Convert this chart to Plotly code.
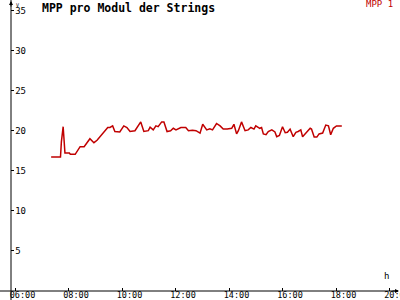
import plotly.graph_objects as go

day = "2020-01-01 "
times = ["07:20","07:41","07:43","07:45","07:47","07:51","08:01","08:03","08:14","08:25",
         "08:34","08:47","08:56","09:03","09:13","09:23","09:27","09:32","09:38","09:43",
         "09:54","10:03","10:10","10:17","10:28","10:41","10:48","10:58","11:02","11:09",
         "11:15","11:20","11:28","11:33","11:40","11:48","11:54","12:00","12:11","12:22",
         "12:28","12:37","12:45","12:54","13:00","13:09","13:16","13:22","13:31","13:39",
         "13:46","13:55","14:05","14:10","14:16","14:20","14:27","14:35","14:42","14:48",
         "14:55","14:59","15:08","15:12","15:16","15:22","15:27","15:35","15:42","15:46",
         "15:52","15:59","16:05","16:10","16:16","16:23","16:29","16:34","16:40","16:44",
         "16:49","17:01","17:04","17:10","17:16","17:21","17:29","17:36","17:42","17:47",
         "17:53","18:00","18:12"]
mpp1 = [16.7,16.7,18.6,19.75,20.5,17.2,17.2,17.05,17.05,18.0,
        18.0,19.0,18.5,18.8,19.5,20.2,20.4,20.4,20.6,19.9,
        19.85,20.6,20.4,19.9,20.0,21.1,19.9,20.0,20.45,20.1,
        20.6,20.5,21.1,21.1,19.9,20.0,20.3,20.1,20.4,20.4,
        20.0,20.05,20.0,19.7,20.8,20.1,20.25,20.1,20.9,20.6,
        20.2,20.2,20.3,20.8,19.6,20.0,21.1,20.0,20.1,20.4,
        20.2,20.6,20.3,20.4,19.6,19.5,19.9,20.1,19.85,19.25,
        19.4,20.5,19.75,19.8,20.2,19.25,19.8,19.9,20.1,19.25,
        19.6,20.3,20.2,19.2,19.2,19.6,19.7,20.7,20.6,19.5,
        20.3,20.6,20.6]
assert len(times) == len(mpp1)

y_ticks = [5, 10, 15, 20, 25, 30, 35]
title = "MPP pro Modul der Strings"
series_name = "MPP 1"
y_unit = "V"
x_unit = "h"

RED = "#c00000"
W, H = 400, 300
ML, MR, MT, MB = 11, 2, 2, 9
PW, PH = W - ML - MR, H - MT - MB

fig = go.Figure()
fig.add_trace(go.Scatter(
    x=[day + t for t in times], y=mpp1, mode="lines", name=series_name,
    line=dict(color=RED, width=1.5), showlegend=False))

mono = "DejaVu Sans Mono"
fig.update_layout(
    width=W, height=H, margin=dict(l=ML, r=MR, t=MT, b=MB, autoexpand=False),
    paper_bgcolor="white", plot_bgcolor="white",
    font=dict(family=mono, size=9, color="black"),
    xaxis=dict(type="date", range=[day + "05:50", day + "20:18"], automargin=False,
               tick0=day + "06:00", dtick=2 * 3600 * 1000, tickformat="%H:%M",
               showgrid=False, zeroline=False, showline=False,
               ticks="inside", ticklen=3, tickcolor="black", tickwidth=1,
               ticklabelshift=7, ticklabelstandoff=-3, ticklabeloverflow="allow",
               tickfont=dict(family=mono, size=8.5, color="black")),
    yaxis=dict(range=[-0.04, 36.09], tickvals=y_ticks, automargin=False,
               showgrid=False, zeroline=False, showline=False,
               ticks="inside", ticklen=3, tickcolor="black", tickwidth=1,
               ticklabelposition="inside", ticklabeloverflow="allow",
               tickfont=dict(family=mono, size=9, color="black")),
)

# axis lines (crossing, extending past each other)
fig.add_shape(type="line", xref="paper", yref="paper",
              x0=-ML / PW, x1=1.0, y0=0, y1=0, line=dict(color="black", width=1))
fig.add_shape(type="line", xref="paper", yref="paper",
              x0=0, x1=0, y0=-MB / PH, y1=1 + MT / PH, line=dict(color="black", width=1))
# arrow heads
fig.add_annotation(xref="paper", yref="paper", x=0, y=1 + MT / PH, ax=0, ay=8,
                   text="", showarrow=True, arrowhead=2, arrowsize=0.8, arrowwidth=1,
                   arrowcolor="black")
fig.add_annotation(xref="paper", yref="paper", x=1 + 1 / PW, y=0, ax=-8, ay=0,
                   text="", showarrow=True, arrowhead=2, arrowsize=0.8, arrowwidth=1,
                   arrowcolor="black")
# unit labels
fig.add_annotation(xref="paper", yref="paper", x=2.5 / PW, y=1 + 2 / PH, text=y_unit,
                   showarrow=False, xanchor="left", yanchor="top",
                   font=dict(family=mono, size=5, color="black"))
fig.add_annotation(xref="paper", yref="paper", x=(386 - ML) / PW, y=(H - MB - 276) / PH,
                   text=x_unit, showarrow=False, xanchor="center", yanchor="middle",
                   font=dict(family=mono, size=9, color="black"))
# title
fig.add_annotation(xref="paper", yref="paper", x=(40 - ML) / PW, y=(H - MB - 8) / PH,
                   text="<b>" + title + "</b>", showarrow=False, xanchor="left",
                   yanchor="middle", font=dict(family=mono, size=11.5, color="black"))
# legend label
fig.add_annotation(xref="paper", yref="paper", x=(395 - ML) / PW, y=(H - MB - 4) / PH,
                   text=series_name, showarrow=False, xanchor="right",
                   yanchor="middle", font=dict(family=mono, size=9, color=RED))

fig.write_html("out.html")
